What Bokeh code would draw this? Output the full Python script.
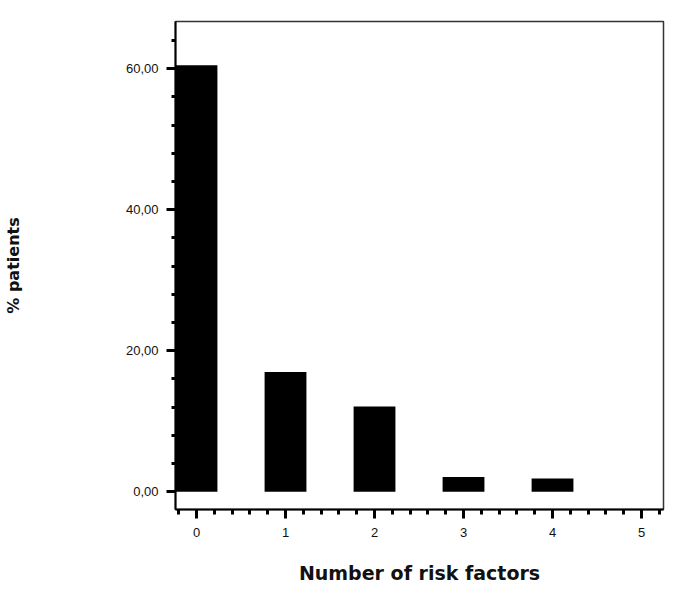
from bokeh.plotting import figure
from bokeh.models import Range1d, FixedTicker, ColumnDataSource
from bokeh.embed import file_html
from bokeh.resources import INLINE

# Data
risk_factors = [0, 1, 2, 3, 4, 5]
pct_patients = [60.5, 17.0, 12.1, 2.1, 1.9, 0.0]

y_major_ticks = [0, 20, 40, 60]
y_tick_labels = ["0,00", "20,00", "40,00", "60,00"]
y_minor_ticks = [0, 4, 8, 12, 16, 20, 24, 28, 32, 36, 40, 44, 48, 52, 56, 60, 64]
x_major_ticks = [0, 1, 2, 3, 4, 5]
x_tick_labels = ["0", "1", "2", "3", "4", "5"]
x_minor_ticks = [-0.2, 0.0, 0.2, 0.4, 0.6, 0.8, 1.0, 1.2, 1.4, 1.6, 1.8, 2.0, 2.2, 2.4, 2.6,
                 2.8, 3.0, 3.2, 3.4, 3.6, 3.8, 4.0, 4.2, 4.4, 4.6, 4.8, 5.0, 5.2]

source = ColumnDataSource(data=dict(x=risk_factors, y=pct_patients))

p = figure(frame_width=488, frame_height=488,
           x_range=Range1d(-0.236, 5.247), y_range=Range1d(-2.51, 66.7),
           output_backend="svg", toolbar_location=None,
           min_border_left=173, min_border_top=21, min_border_right=8, min_border_bottom=80)

p.vbar(x="x", top="y", bottom=0, width=0.47, source=source,
       fill_color="#000000", line_color=None)

p.xgrid.visible = False
p.ygrid.visible = False
p.background_fill_color = "white"
p.border_fill_color = "white"
p.outline_line_color = "#333333"
p.outline_line_width = 1.5

# Y axis
ya = p.yaxis[0]
ya.ticker = FixedTicker(ticks=y_major_ticks, minor_ticks=y_minor_ticks)
ya.major_label_overrides = {t: l for t, l in zip(y_major_ticks, y_tick_labels)}
ya.axis_line_width = 2
ya.axis_line_color = "black"
ya.major_tick_line_width = 3
ya.minor_tick_line_width = 3
ya.major_tick_in = 0
ya.major_tick_out = 9
ya.minor_tick_in = 0
ya.minor_tick_out = 4
ya.major_label_standoff = 8
ya.major_label_text_font = "Liberation Sans"
ya.major_label_text_font_size = "13px"
ya.major_label_text_color = "#111111"
ya.axis_label = "% patients"
ya.axis_label_text_font = "DejaVu Sans"
ya.axis_label_text_font_style = "bold"
ya.axis_label_text_font_size = "16px"
ya.axis_label_text_color = "#111111"
ya.axis_label_standoff = 100

# X axis
xa = p.xaxis[0]
xa.ticker = FixedTicker(ticks=x_major_ticks, minor_ticks=x_minor_ticks)
xa.major_label_overrides = {t: l for t, l in zip(x_major_ticks, x_tick_labels)}
xa.axis_line_width = 2
xa.axis_line_color = "black"
xa.major_tick_line_width = 3
xa.minor_tick_line_width = 3
xa.major_tick_in = 0
xa.major_tick_out = 9
xa.minor_tick_in = 0
xa.minor_tick_out = 5
xa.major_label_standoff = 9
xa.major_label_text_font = "Liberation Sans"
xa.major_label_text_font_size = "13px"
xa.major_label_text_color = "#111111"
xa.axis_label = "Number of risk factors"
xa.axis_label_text_font = "DejaVu Sans"
xa.axis_label_text_font_style = "bold"
xa.axis_label_text_font_size = "19px"
xa.axis_label_text_color = "#111111"
xa.axis_label_standoff = 22

open("out.html", "w").write(file_html(p, INLINE))
